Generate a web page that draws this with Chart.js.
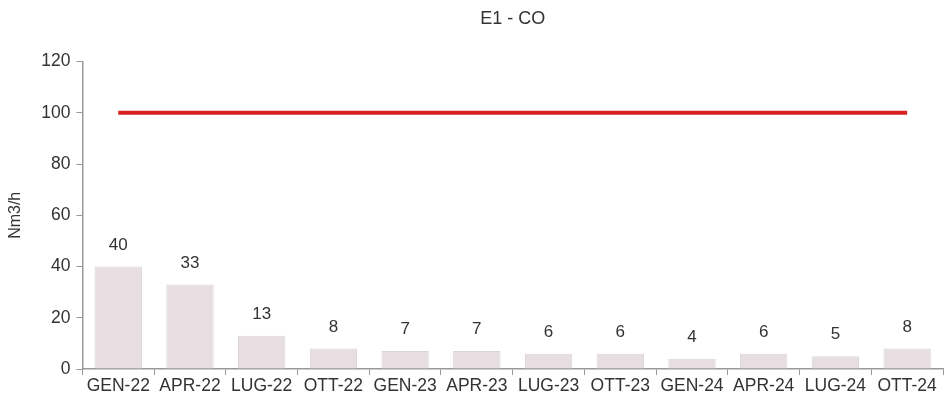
<!DOCTYPE html>
<html>
<head>
<meta charset="utf-8">
<script src="https://cdn.jsdelivr.net/npm/chart.js@4/dist/chart.umd.min.js"></script>
<style>
    html, body { margin: 0; padding: 0; background: #ffffff; }
    #wrap { width: 949px; height: 402px; }
</style>
</head>
<body>
<div id="wrap"><canvas id="chart"></canvas></div>
<script>
const categories = ['GEN-22', 'APR-22', 'LUG-22', 'OTT-22', 'GEN-23', 'APR-23', 'LUG-23', 'OTT-23', 'GEN-24', 'APR-24', 'LUG-24', 'OTT-24'];
const coValues = [40, 33, 13, 8, 7, 7, 6, 6, 4, 6, 5, 8];
const limitValues = [100, 100, 100, 100, 100, 100, 100, 100, 100, 100, 100, 100];
const yTicks = [0, 20, 40, 60, 80, 100, 120];

Chart.defaults.font.family = '"Liberation Sans", Arial, sans-serif';
Chart.defaults.color = '#333333';

// labels above bars
const barLabels = {
    id: 'barLabels',
    afterDatasetsDraw(chart) {
        const ctx = chart.ctx;
        const meta = chart.getDatasetMeta(0);
        ctx.save();
        ctx.font = '17px "Liberation Sans", Arial, sans-serif';
        ctx.fillStyle = '#333333';
        ctx.textAlign = 'center';
        ctx.textBaseline = 'bottom';
        meta.data.forEach((bar, i) => {
            ctx.fillText(String(coValues[i]), bar.x, bar.y - 13);
        });
        ctx.restore();
    },
};

new Chart(document.getElementById('chart'), {
    type: 'bar',
    data: {
        labels: categories,
        datasets: [
            {
                label: 'CO',
                data: coValues,
                backgroundColor: '#e6dee1',
                borderColor: '#d9d4d6',
                borderWidth: 1,
                barPercentage: 0.66,
                categoryPercentage: 1,
                order: 2,
            },
            {
                type: 'line',
                label: 'Limite',
                data: limitValues,
                borderColor: '#d62222',
                borderWidth: 4,
                pointRadius: 0,
                fill: false,
                order: 1,
            },
        ],
    },
    options: {
        responsive: true,
        maintainAspectRatio: false,
        animation: false,
        layout: {
            padding: { top: 8, right: 6, bottom: 4, left: 6 },
        },
        plugins: {
            legend: { display: false },
            tooltip: { enabled: false },
            title: {
                display: true,
                text: 'E1 - CO',
                fullSize: false,
                font: { size: 18, weight: 'normal' },
                color: '#333333',
                padding: { top: 0, bottom: 32 },
            },
        },
        scales: {
            x: {
                grid: {
                    display: true,
                    drawOnChartArea: false,
                    color: '#999999',
                    tickLength: 6,
                },
                border: { color: '#999999', width: 1.5 },
                ticks: {
                    font: { size: 17.5 },
                    color: '#333333',
                    padding: 1,
                    maxRotation: 0,
                    autoSkip: false,
                },
            },
            y: {
                min: 0,
                max: 120,
                afterBuildTicks(axis) {
                    axis.ticks = yTicks.map((v) => ({ value: v }));
                },
                grid: {
                    display: true,
                    drawOnChartArea: false,
                    color: '#999999',
                    tickLength: 6,
                },
                border: { color: '#999999', width: 1.5 },
                ticks: {
                    font: { size: 17.5 },
                    color: '#333333',
                    padding: 6,
                },
                title: {
                    display: true,
                    text: 'Nm3/h',
                    font: { size: 16 },
                    color: '#333333',
                    padding: { top: 0, bottom: 10 },
                },
            },
        },
    },
    plugins: [barLabels],
});
</script>
</body>
</html>
